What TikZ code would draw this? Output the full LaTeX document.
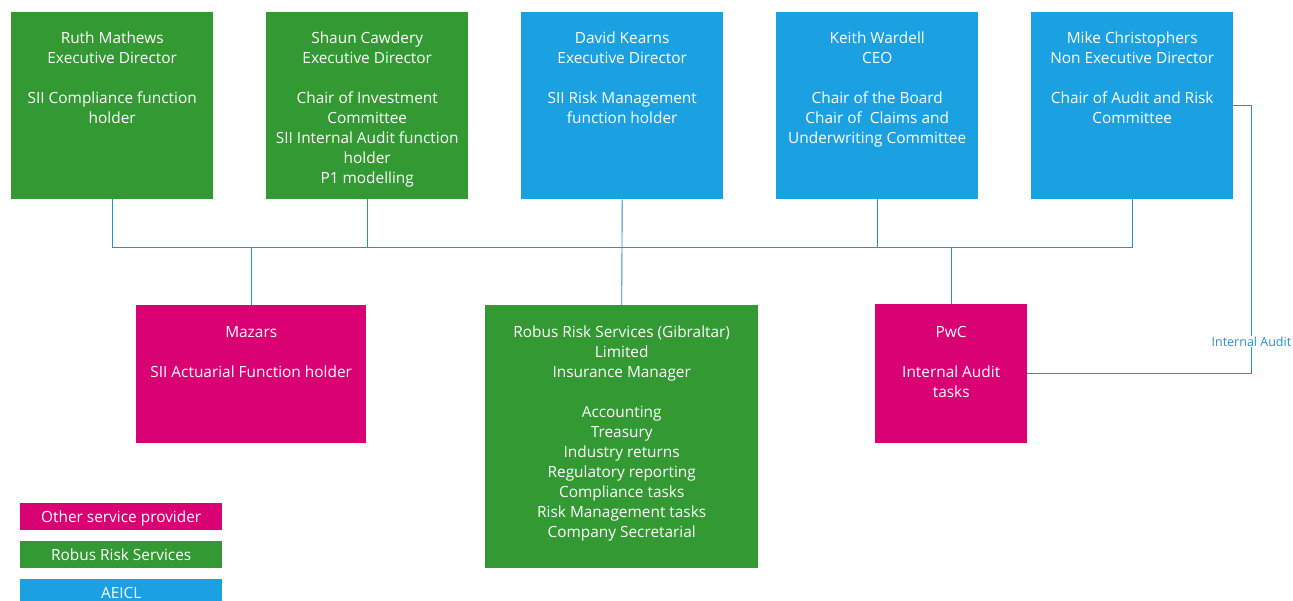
\documentclass[tikz,border=0pt]{standalone}
\usepackage{fontspec}
\setmainfont{Open Sans}
\definecolor{rgreen}{HTML}{339933}
\definecolor{ablue}{HTML}{1BA1E2}
\definecolor{omag}{HTML}{D80073}
\definecolor{link}{HTML}{2E8BCF}
\begin{document}
\begin{tikzpicture}[x=1pt,y=-1pt,
  card/.style={fill=#1, draw=none, inner sep=0pt, anchor=north west},
  top/.style={card=#1, minimum width=202pt, minimum height=187pt},
  cardtext/.style={text=white, font=\fontsize{15.4}{20}\selectfont, align=center, anchor=north, inner sep=0pt},
  legend/.style={card=#1, minimum width=202pt, minimum height=27pt, text=white,
    font=\fontsize{15.4}{20}\selectfont, text height=14pt, text depth=2pt},
  wire/.style={draw=link, line width=0.9pt},
  lbl/.style={fill=white, text=link, font=\fontsize{12.5}{14}\selectfont, inner sep=1pt}]
\useasboundingbox (0,0) rectangle (1293,600);

% board members
\node[top=rgreen] (ruth)  at (11,12)   {};
\node[top=rgreen] (shaun) at (266,12)  {};
\node[top=ablue]  (david) at (521,12)  {};
\node[top=ablue]  (keith) at (776,12)  {};
\node[top=ablue]  (mike)  at (1031,12) {};

\node[cardtext] at ([yshift=-20pt]ruth.north)
  {Ruth Mathews\\Executive Director\\[20pt]SII Compliance function\\holder};
\node[cardtext] at ([yshift=-20pt]shaun.north)
  {Shaun Cawdery\\Executive Director\\[20pt]Chair of Investment\\Committee\\SII Internal Audit function\\holder\\P1 modelling};
\node[cardtext] at ([yshift=-20pt]david.north)
  {David Kearns\\Executive Director\\[20pt]SII Risk Management\\function holder};
\node[cardtext] at ([yshift=-20pt]keith.north)
  {Keith Wardell\\CEO\\[20pt]Chair of the Board\\Chair of\ \ Claims and\\Underwriting Committee};
\node[cardtext] at ([yshift=-20pt]mike.north)
  {Mike Christophers\\Non Executive Director\\[20pt]Chair of Audit and Risk\\Committee};

% service providers
\node[card=omag, minimum width=230pt, minimum height=138pt] (mazars) at (136,305) {};
\node[card=rgreen, minimum width=273pt, minimum height=263pt] (robus) at (485,305) {};
\node[card=omag, minimum width=152pt, minimum height=139pt] (pwc) at (875,304) {};

\node[cardtext] at ([yshift=-21pt]mazars.north)
  {Mazars\\[20pt]SII Actuarial Function holder};
\node[cardtext] at ([yshift=-21pt]robus.north)
  {Robus Risk Services (Gibraltar)\\Limited\\Insurance Manager\\[20pt]Accounting\\Treasury\\Industry returns\\Regulatory reporting\\Compliance tasks\\Risk Management tasks\\Company Secretarial};
\node[cardtext] at ([yshift=-22pt]pwc.north)
  {PwC\\[20pt]Internal Audit\\tasks};

% reporting lines
\draw[wire] (ruth.south) -- ++(0,48) coordinate (bus) -- (bus -| mike.south) -- (mike.south);
\draw[wire] (shaun.south) -- (shaun.south |- bus);
\draw[wire] (keith.south) -- (keith.south |- bus);
\draw[wire] (david.south) -- (robus.north);
\draw[wire] (mazars.north) -- (mazars.north |- bus);
\draw[wire] (pwc.north) -- (pwc.north |- bus);

% internal audit line
\draw[wire] ([yshift=-93pt]mike.north east) -- ++(18,0) coordinate (ia)
  -- (ia |- pwc.east) node[lbl, pos=0.88] {Internal Audit} -- (pwc.east);

% legend
\node[legend=omag]   (lgother) at (20,503) {Other service provider};
\node[legend=rgreen] (lgrobus) at (20,541) {Robus Risk Services};
\node[legend=ablue]  (lgaeicl) at (20,579) {AEICL};
\end{tikzpicture}
\end{document}
